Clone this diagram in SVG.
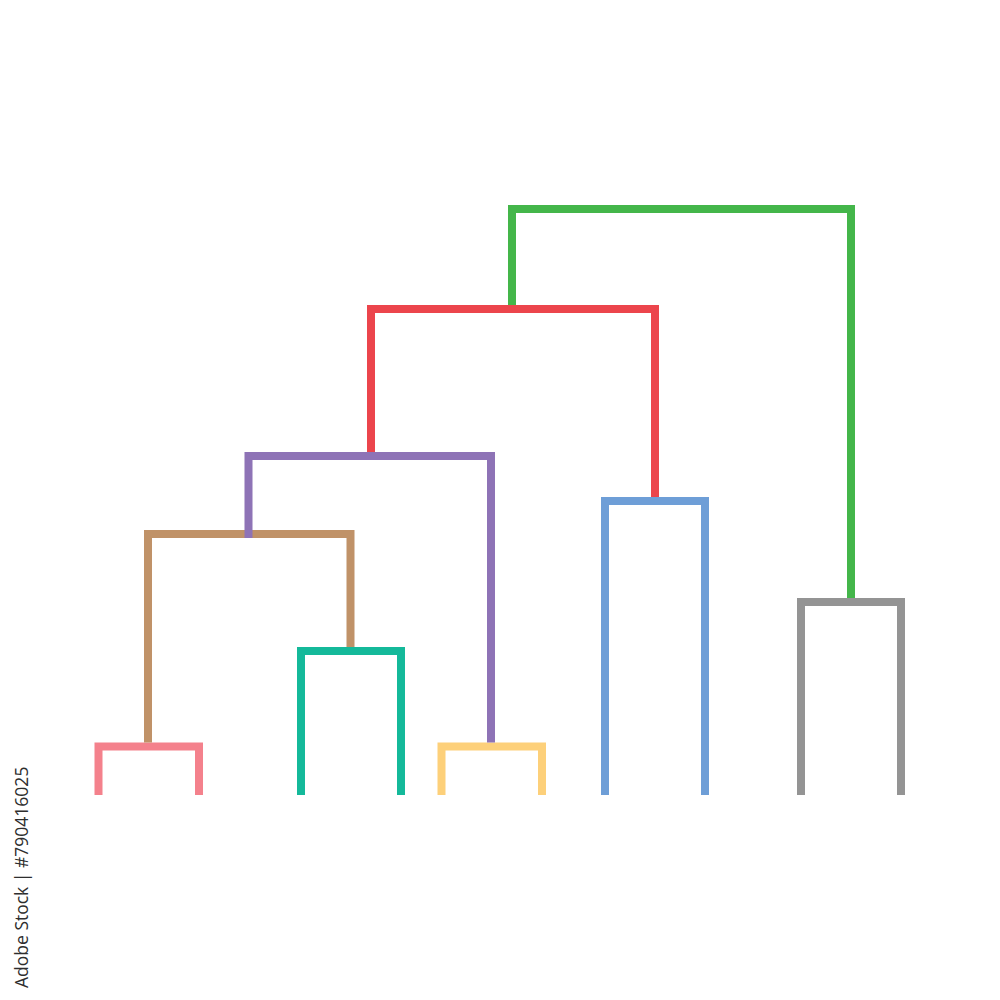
<svg xmlns="http://www.w3.org/2000/svg" width="1000" height="1000" viewBox="0 0 1000 1000">
<style>
.c{fill:none;stroke-width:8;stroke-linejoin:miter;stroke-linecap:butt}
.pink{stroke:#F4818C}.brown{stroke:#C09268}.teal{stroke:#14B99A}.purple{stroke:#8E73B6}
.yellow{stroke:#FDD07A}.red{stroke:#EC454C}.blue{stroke:#6E9ED7}.green{stroke:#44B64A}.gray{stroke:#949494}
.wm{font-family:"Open Sans","DejaVu Sans",sans-serif;font-size:17.5px;fill:#2e2e2e}
</style>
<rect width="1000" height="1000" fill="#fff"/>
<g id="leaf-cluster-1"><path class="c pink" d="M98.5 795V746.5H199V795"/></g>
<g id="leaf-cluster-2"><path class="c teal" d="M301 795V651H401V795"/></g>
<g id="leaf-cluster-3"><path class="c yellow" d="M441.5 795V746.5H542V795"/></g>
<g id="leaf-cluster-4"><path class="c blue" d="M605 795V501H705V795"/></g>
<g id="leaf-cluster-5"><path class="c gray" d="M801 795V602H901V795"/></g>
<g id="connectors">
<path class="c brown" d="M148 742.5V534H350.5V647"/>
<path class="c purple" d="M248.5 538V456H491V742.5"/>
<path class="c red" d="M371 452V309H655V497"/>
<path class="c green" d="M512 305V209H851V598"/>
</g>
<text class="wm" transform="translate(28 988) rotate(-90)">Adobe Stock | #790416025</text>
</svg>
